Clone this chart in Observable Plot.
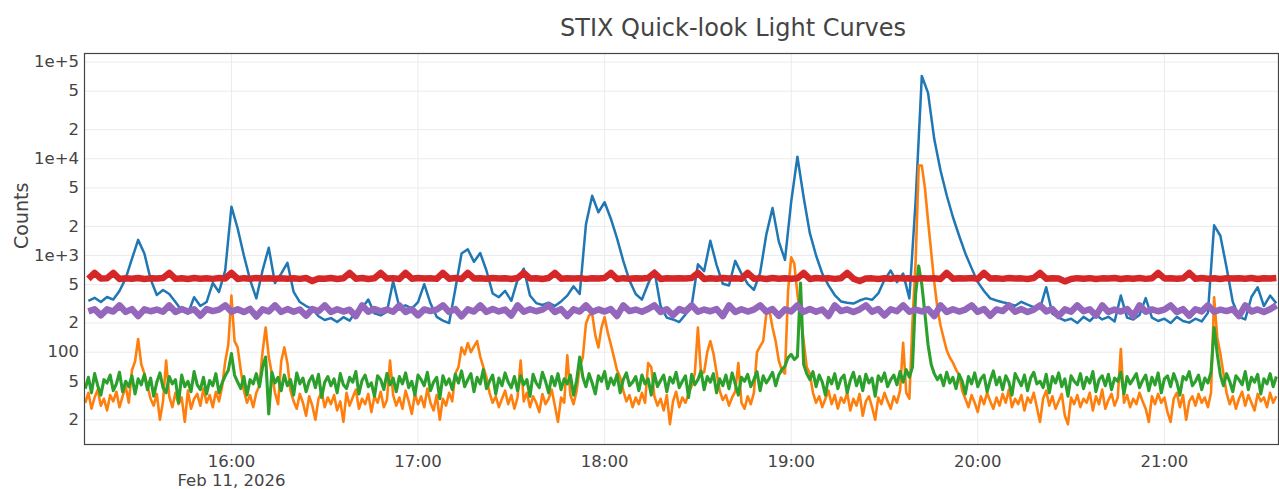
<!DOCTYPE html>
<html><head><meta charset="utf-8">
<script src="https://cdn.jsdelivr.net/npm/d3@7"></script>
<script src="https://cdn.jsdelivr.net/npm/@observablehq/plot@0.6"></script>
<style>html,body{margin:0;padding:0;background:#fff;}body{width:1279px;height:489px;overflow:hidden;}</style>
</head><body><div id="chart"></div>
<script>
// Time base: Feb 11, 2026 15:00 UTC; series given as minutes after 15:00 (start, step)
const t0 = Date.UTC(2026, 1, 11, 15, 0);
const title = "STIX Quick-look Light Curves";
const yAxisTitle = "Counts";
const bands = ["4-10 keV", "10-15 keV", "15-25 keV", "25-50 keV", "50-84 keV"];
const colors = ["#1f77b4", "#ff7f0e", "#2ca02c", "#d62728", "#9467bd"];

const yTickValues = [20, 50, 100, 200, 500, 1000, 2000, 5000, 10000, 20000, 50000, 100000];
const yTickLabels = ["2", "5", "100", "2", "5", "1e+3", "2", "5", "1e+4", "2", "5", "1e+5"];
const xTickHours = [16, 17, 18, 19, 20, 21];
const xTickLabels = ["16:00", "17:00", "18:00", "19:00", "20:00", "21:00"];
const dateLabel = "Feb 11, 2026";

// 4-10 keV, every 2 min from 15:14
const blueStart = 14, blueStep = 2;
const blue = [
 340,365,330,372,350,430,580,920,1450,1050,570,390,440,400,330,270,
 250,370,300,330,520,420,700,3200,1900,1000,560,360,700,1200,520,650,
 840,420,330,300,280,235,215,225,205,230,212,262,285,350,252,240,
 262,540,292,305,282,330,505,320,232,212,200,450,1050,1160,860,1060,
 700,405,370,430,340,560,730,385,322,308,325,300,335,385,480,400,
 2100,4150,2800,3550,2400,1500,880,550,400,350,510,700,300,228,218,205,
 245,305,810,690,1420,800,510,490,880,650,510,440,660,1650,3100,1400,
 900,3600,10500,4000,1700,1000,650,490,390,335,325,318,342,360,348,405,
 560,700,530,650,360,3600,72000,48000,16000,7600,4200,2500,1600,1050,740,530,
 430,360,342,328,318,302,332,310,292,282,470,250,228,212,222,200,
 232,210,242,218,232,208,385,228,218,242,362,228,210,222,200,232,
 210,202,222,208,255,2050,1600,750,330,232,218,372,470,300,385,320
];

// 10-15 keV, every 1 min from 15:13
const orangeStart = 13, orangeStep = 1;
const orange = [
 30,38,26,34,41,28,33,25,36,31,39,27,35,44,30,65,80,137,75,60,
 45,33,28,37,20,31,82,35,27,38,29,34,19,40,26,33,37,28,42,30,
 36,27,39,31,44,80,120,385,130,112,65,40,30,36,27,38,45,100,180,90,
 60,38,29,80,112,77,40,31,26,37,30,22,35,28,20,33,39,27,34,29,
 36,25,31,19,38,28,34,41,26,33,29,37,24,35,30,39,27,32,82,36,
 28,34,26,40,31,23,37,29,35,27,42,30,25,36,20,33,28,38,31,60,
 70,112,95,124,100,115,130,90,70,55,38,30,35,27,33,40,29,36,26,34,
 82,31,38,27,35,30,24,37,29,33,41,28,19,34,30,93,36,29,40,70,
 89,197,240,250,150,112,180,230,160,120,89,65,55,40,31,36,27,34,29,38,
 30,77,70,35,28,33,25,36,18,31,39,27,34,30,37,45,60,180,60,62,
 100,130,97,62,40,32,36,28,34,39,77,30,26,35,29,38,100,115,130,250,
 270,180,130,82,65,60,435,960,820,400,230,130,70,60,38,30,35,27,33,40,
 29,36,26,34,30,38,25,33,28,37,22,31,35,27,20,34,29,38,31,26,
 35,30,40,125,38,33,205,850,8500,8500,5000,2300,1100,530,290,190,140,105,88,78,
 66,58,40,33,27,36,30,24,35,29,38,31,26,34,28,37,30,41,27,33,
 29,36,25,34,30,38,27,19,33,40,28,35,26,31,37,22,18,34,29,36,
 27,33,30,38,25,35,29,41,26,32,37,28,34,108,30,36,27,33,29,38,
 31,26,19,35,29,37,30,34,24,19,33,38,27,36,20,31,35,28,37,30,
 34,27,38,370,142,97,60,38,29,35,26,33,39,28,36,30,25,37,31,34,
 27,38,30,35
];

// 15-25 keV, every 1 min from 15:13
const greenStart = 13, greenStep = 1;
const green = [
 42,55,38,60,45,36,52,48,58,40,47,62,39,50,44,57,37,53,46,59,
 41,54,35,49,61,43,38,56,47,52,30,58,44,50,39,63,46,41,55,37,
 51,45,60,38,48,57,65,97,58,49,42,56,36,52,47,60,44,70,89,23,
 62,48,55,40,58,45,52,36,61,47,54,39,50,57,43,59,34,49,56,45,
 53,38,60,46,42,55,49,63,37,51,58,44,48,35,57,52,41,60,46,54,
 39,56,47,61,43,50,36,58,52,45,62,40,49,55,33,57,46,53,41,59,
 48,64,44,52,60,39,55,47,66,42,50,58,37,54,45,61,49,43,56,40,
 57,46,52,35,59,48,43,62,50,38,56,45,60,41,53,47,58,36,51,89,
 55,44,60,48,37,57,50,63,42,54,46,59,38,52,61,45,49,56,40,58,
 47,53,36,60,44,51,58,39,55,48,62,43,50,57,34,59,46,52,64,41,
 56,49,60,38,53,45,58,42,61,47,36,55,50,59,44,52,63,40,57,48,
 54,62,45,58,66,72,88,95,84,90,520,75,60,52,63,44,58,49,36,55,
 47,60,42,53,58,38,51,62,45,56,40,59,48,54,35,57,50,61,44,52,
 58,46,63,49,66,55,70,400,780,500,250,120,75,60,52,58,45,62,48,55,
 42,59,50,37,56,47,61,44,53,58,39,51,64,46,55,41,57,49,36,60,
 52,45,58,40,54,62,47,50,43,59,38,56,48,61,44,53,35,57,50,46,
 60,42,55,48,63,39,52,57,45,59,41,54,50,62,37,56,47,53,60,43,
 51,58,40,55,46,61,38,53,57,44,60,49,36,56,52,63,45,50,58,41,
 54,48,62,180,97,58,45,60,50,39,57,52,46,63,41,55,49,59,37,53,
 47,60,44,56
];

// 25-50 keV, every 2 min from 15:14
const redStart = 14, redStep = 2;
const red = [
 574,660,578,583,660,571,582,575,585,572,580,577,584,660,573,582,
 571,584,576,581,573,585,578,660,572,583,575,586,577,580,574,582,
 576,581,573,585,545,579,574,584,571,582,660,576,585,572,581,660,
 577,583,571,660,575,584,579,580,573,660,576,585,572,660,578,581,
 574,585,577,581,572,584,660,578,582,571,585,660,575,580,579,583,
 573,581,578,585,660,571,583,576,580,578,584,660,572,582,577,580,
 578,584,660,572,581,575,585,577,580,574,660,576,583,571,586,575,
 582,576,580,660,571,585,578,583,573,581,660,575,545,579,580,572,
 581,574,585,577,580,572,583,578,582,571,660,576,580,577,585,573,
 660,577,581,573,585,578,580,572,584,660,575,582,577,540,571,583,
 576,583,572,580,577,585,571,582,576,584,573,580,660,579,581,574,
 580,660,574,585,576,581,572,583,578,580,575,586,571,582,577,584
];

// 50-84 keV, every 2 min from 15:14
const purpleStart = 14, purpleStep = 2;
const purple = [
 264,278,240,277,263,305,261,279,236,277,265,276,262,305,260,279,
 263,278,238,279,266,275,305,262,278,260,280,234,277,264,305,261,
 279,262,276,238,280,265,305,261,278,263,275,236,305,262,279,264,
 276,262,305,260,279,240,277,266,275,305,261,279,235,277,263,305,
 261,280,264,276,239,305,262,278,265,275,305,260,279,236,277,263,
 305,261,277,263,279,237,305,266,276,262,280,305,260,278,241,279,
 264,305,262,276,265,279,236,305,261,278,263,275,305,262,279,238,
 277,264,305,261,280,262,276,237,305,266,277,260,277,305,262,279,
 240,278,265,305,262,275,264,279,236,305,261,278,263,276,305,261,
 280,238,277,266,305,262,279,260,275,305,264,279,237,277,262,305,
 265,278,239,305,261,276,263,280,236,305,262,277,265,275,305,260,
 279,238,278,264,305,262,275,266,279,236,305,263,277,261,278,305
];

const series = [
  [blue, blueStart, blueStep, 2.5],
  [orange, orangeStart, orangeStep, 2.6],
  [green, greenStart, greenStep, 3.1],
  [red, redStart, redStep, 6.5],
  [purple, purpleStart, purpleStep, 6.5]
];

const toDate = (m) => new Date(t0 + m * 60000);
const xTicks = xTickHours.map(h => toDate((h - 15) * 60));
const xLabelMap = new Map(xTicks.map((d, i) => [d.getTime(), xTickLabels[i]]));
const yLabelMap = new Map(yTickValues.map((v, i) => [v, yTickLabels[i]]));

const lineMarks = series.map(([vals, start, step, sw], k) =>
  Plot.lineY(vals.map((v, i) => ({time: toDate(start + i * step), counts: v, band: bands[k]})), {
    x: "time", y: "counts", stroke: colors[k], strokeWidth: sw,
    strokeLinejoin: "round", strokeLinecap: "butt", clip: true
  })
);

const chart = Plot.plot({
  width: 1279, height: 489,
  marginTop: 53, marginBottom: 45, marginLeft: 84, marginRight: 1,
  style: {fontFamily: "'DejaVu Sans', Verdana, sans-serif", fontSize: "16.5px", color: "#444", background: "#fff"},
  x: {type: "utc", domain: [toDate(12.75), toDate(396.7)], axis: null},
  y: {type: "log", domain: [11.1, 122700], axis: null},
  marks: [
    Plot.gridX(xTicks, {stroke: "#ebebeb", strokeOpacity: 1, strokeWidth: 1}),
    Plot.gridY(yTickValues, {stroke: "#ebebeb", strokeOpacity: 1, strokeWidth: 1}),
    ...lineMarks,
    Plot.frame({stroke: "#444", strokeWidth: 1.2}),
    Plot.text(yTickValues, {y: d => d, frameAnchor: "left", text: d => yLabelMap.get(d), textAnchor: "end", dx: -5.5, fontSize: 16.5, fill: "#444"}),
    Plot.text(xTicks, {x: d => d, frameAnchor: "bottom", text: d => xLabelMap.get(d.getTime()), lineAnchor: "top", dy: 11, fontSize: 16.5, fill: "#444"}),
    Plot.text([xTicks[0]], {x: d => d, frameAnchor: "bottom", text: () => dateLabel, lineAnchor: "top", dy: 29.5, fontSize: 16.5, fill: "#444"}),
    Plot.text([yAxisTitle], {frameAnchor: "left", rotate: -90, dx: -62.5, fontSize: 19, fill: "#444"}),
    Plot.text([title], {frameAnchor: "top", dx: 51.5, dy: -34.7, fontSize: 24, fill: "#444"})
  ]
});
document.getElementById("chart").appendChild(chart);
</script>
</body></html>
